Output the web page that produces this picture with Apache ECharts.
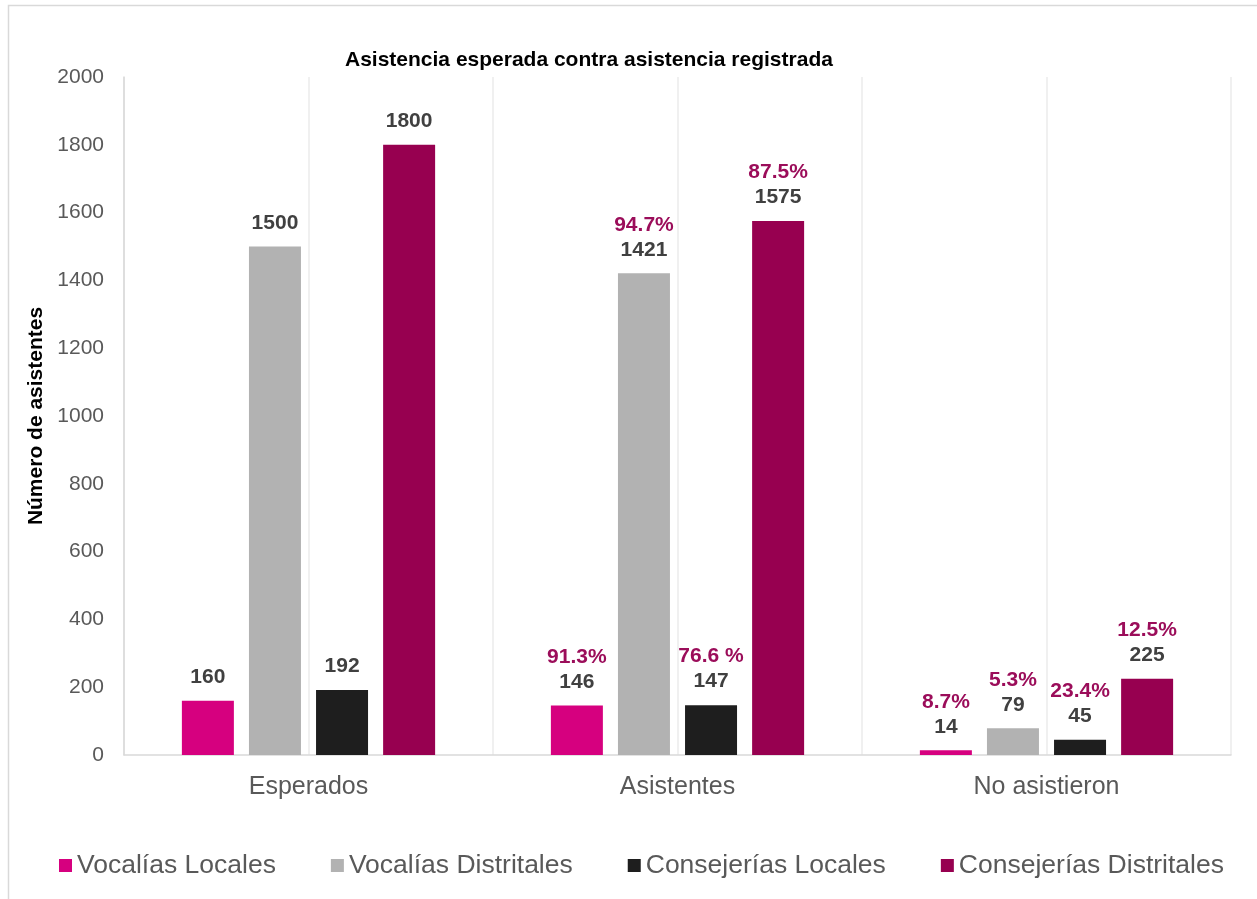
<!DOCTYPE html>
<html>
<head>
<meta charset="utf-8">
<script src="https://cdn.jsdelivr.net/npm/echarts@6/dist/echarts.min.js"></script>
<style>
html,body{margin:0;padding:0;background:#fff;}
#chart{width:1257px;height:899px;}
</style>
</head>
<body>
<div id="chart"></div>
<script>
const categories = ['Esperados', 'Asistentes', 'No asistieron'];
const seriesNames = ['Vocalías Locales', 'Vocalías Distritales', 'Consejerías Locales', 'Consejerías Distritales'];
const vocaliasLocales = [160, 146, 14];
const vocaliasDistritales = [1500, 1421, 79];
const consejeriasLocales = [192, 147, 45];
const consejeriasDistritales = [1800, 1575, 225];
const vocaliasLocalesPct = ['', '91.3%', '8.7%'];
const vocaliasDistritalesPct = ['', '94.7%', '5.3%'];
const consejeriasLocalesPct = ['', '76.6 %', '23.4%'];
const consejeriasDistritalesPct = ['', '87.5%', '12.5%'];
const yTicks = [0, 200, 400, 600, 800, 1000, 1200, 1400, 1600, 1800, 2000];
const halfSlots = ['a', 'b', 'c', 'd', 'e', 'f'];

const colors = ['#D6007F', '#B2B2B2', '#1E1E1E', '#970050'];
const FONT = 'Liberation Sans, Arial, sans-serif';

function makeSeries(name, values, pcts, color) {
  return {
    name: name,
    type: 'bar',
    xAxisIndex: 0,
    data: values,
    barWidth: 52,
    barGap: '29%',
    itemStyle: { color: color },
    label: {
      show: true,
      position: 'top',
      distance: 11,
      formatter: function (p) {
        const pct = pcts[p.dataIndex];
        return pct ? '{p|' + pct + '}\n{v|' + p.value + '}' : '{v|' + p.value + '}';
      },
      rich: {
        p: { color: '#9B0D5A', fontWeight: 'bold', fontSize: 21, fontFamily: FONT, lineHeight: 25 },
        v: { color: '#404040', fontWeight: 'bold', fontSize: 21, fontFamily: FONT, lineHeight: 25 }
      }
    }
  };
}

const chart = echarts.init(document.getElementById('chart'), null, { renderer: 'canvas' });
chart.setOption({
  backgroundColor: '#ffffff',
  animation: false,
  textStyle: { fontFamily: FONT },
  graphic: [{
    type: 'rect',
    shape: { x: 8.5, y: 5.5, width: 1300, height: 1000 },
    style: { fill: 'none', stroke: '#D9D9D9', lineWidth: 1.5 },
    silent: true
  }],
  title: {
    text: 'Asistencia esperada contra asistencia registrada',
    left: 340,
    top: 45,
    textStyle: { fontSize: 21, fontWeight: 'bold', color: '#000', fontFamily: FONT }
  },
  legend: {
    data: seriesNames,
    left: 54,
    top: 847,
    itemWidth: 13,
    itemHeight: 13,
    itemGap: 55,
    icon: 'rect',
    textStyle: { fontSize: 26.5, color: '#595959', fontFamily: FONT }
  },
  grid: { left: 124, right: 26, top: 77, bottom: 144 },
  xAxis: [{
    type: 'category',
    data: categories,
    axisLine: { show: true, lineStyle: { color: '#D9D9D9', width: 1.5 } },
    axisTick: { show: false },
    axisLabel: { fontSize: 25, color: '#595959', margin: 20, fontFamily: FONT }
  }, {
    type: 'category',
    data: halfSlots,
    position: 'bottom',
    axisLine: { show: false },
    axisTick: { show: false },
    axisLabel: { show: false },
    splitLine: { show: true, lineStyle: { color: '#EBEBEB', width: 1.5 } }
  }],
  yAxis: {
    type: 'value',
    min: yTicks[0],
    max: yTicks[yTicks.length - 1],
    interval: yTicks[1] - yTicks[0],
    name: 'Número de asistentes',
    nameLocation: 'middle',
    nameGap: 70,
    nameTextStyle: { fontSize: 21, fontWeight: 'bold', color: '#000', fontFamily: FONT },
    axisLine: { show: true, lineStyle: { color: '#D9D9D9', width: 1.5 } },
    axisTick: { show: false },
    splitLine: { show: false },
    axisLabel: { fontSize: 21, color: '#595959', margin: 20, fontFamily: FONT, formatter: function (v) { return String(v); } }
  },
  series: [
    makeSeries(seriesNames[0], vocaliasLocales, vocaliasLocalesPct, colors[0]),
    makeSeries(seriesNames[1], vocaliasDistritales, vocaliasDistritalesPct, colors[1]),
    makeSeries(seriesNames[2], consejeriasLocales, consejeriasLocalesPct, colors[2]),
    makeSeries(seriesNames[3], consejeriasDistritales, consejeriasDistritalesPct, colors[3])
  ]
});
</script>
</body>
</html>
